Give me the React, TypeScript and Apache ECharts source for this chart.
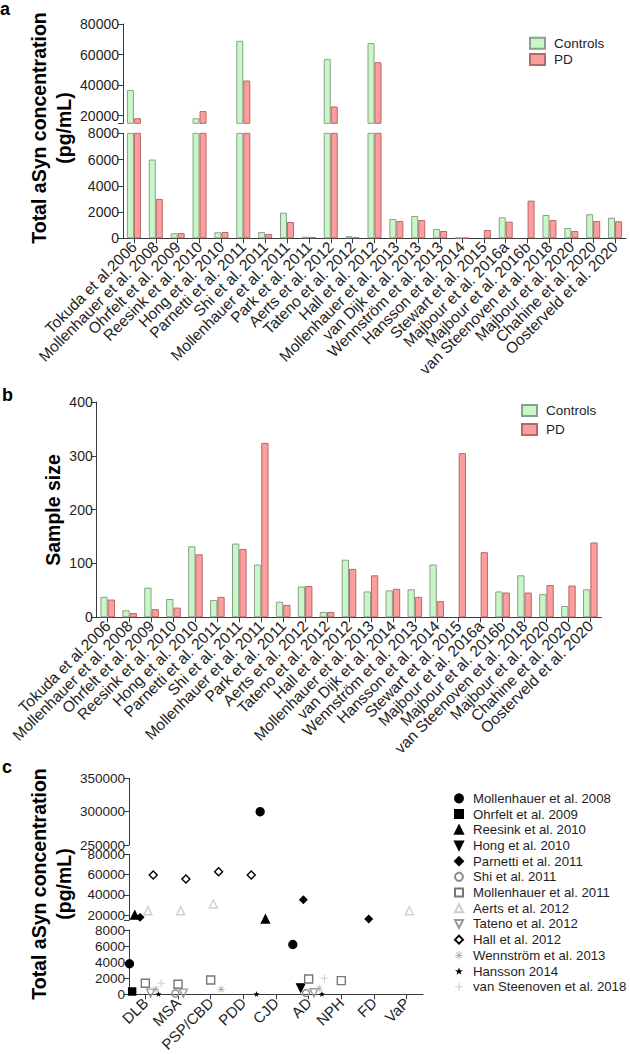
import React, { useEffect, useRef } from 'react';
import * as echarts from 'echarts';

const FONT = "'Liberation Sans', Arial, Helvetica, sans-serif";

// ---------- Panel a ----------
const studiesA = [
  'Tokuda et al.2006', 'Mollenhauer et al. 2008', 'Ohrfelt et al. 2009', 'Reesink et al. 2010',
  'Hong et al. 2010', 'Parnetti et al. 2011', 'Shi et al. 2011', 'Mollenhauer et al. 2011',
  'Park et al. 2011', 'Aerts et al. 2012', 'Tateno et al. 2012', 'Hall et al. 2012',
  'Mollenhauer et al. 2013', 'van Dijk et al. 2013', 'Wennström et al. 2013', 'Hansson et al. 2014',
  'Stewart et al. 2015', 'Majbour et al. 2016a', 'Majbour et al. 2016b', 'van Steenoven et al. 2018',
  'Majbour et al. 2020', 'Chahine et al. 2020', 'Oosterveld et al. 2020',
];
const controlsA = [36800, 6000, 380, 18300, 460, 69000, 470, 1950, 120, 57000, 160, 67500, 1470, 1700, 710, 50, null, 1600, null, 1775, 785, 1830, 1570];
const pdA = [18300, 3000, 400, 23000, 480, 43000, 330, 1240, 100, 26000, 80, 55000, 1320, 1390, 556, 40, 630, 1270, 2870, 1390, 556, 1320, 1295];
const ticksAUpper = [20000, 40000, 60000, 80000];

// ---------- Panel b ----------
const studiesB = [
  'Tokuda et al.2006', 'Mollenhauer et al. 2008', 'Ohrfelt et al. 2009', 'Reesink et al. 2010',
  'Hong et al. 2010', 'Parnetti et al. 2011', 'Shi et al. 2011', 'Mollenhauer et al. 2011',
  'Park et al. 2011', 'Aerts et al. 2012', 'Tateno et al. 2012', 'Hall et al. 2012',
  'Mollenhauer et al. 2013', 'van Dijk et al. 2014', 'Wennström et al. 2013', 'Hansson et al. 2014',
  'Stewart et al. 2015', 'Majbour et al. 2016a', 'Majbour et al. 2016b', 'van Steenoven et al. 2018',
  'Majbour et al. 2020', 'Chahine et al. 2020', 'Oosterveld et al. 2020',
];
const controlsB = [38, 13, 55, 34, 132, 32, 137, 98, 29, 57, 10, 107, 48, 50, 52, 98, null, null, 48, 78, 43, 21, 52];
const pdB = [33, 8, 15, 18, 117, 38, 127, 324, 23, 58, 10, 90, 78, 53, 38, 30, 305, 121, 46, 46, 60, 59, 139];

// ---------- Panel c ----------
const disordersC = ['DLB', 'MSA', 'PSP/CBD', 'PDD', 'CJD', 'AD', 'NPH', 'FD', 'VaP'];
const mollenhauer2008C = [3800, null, null, null, 300000, 6200, null, null, null];
const ohrfelt2009C = [350, null, null, null, null, null, null, null, null];
const reesink2010C = [20000, null, null, null, 16000, null, null, null, null];
const hong2010C = [null, null, null, null, null, 800, null, null, null];
const parnetti2011C = [17700, null, null, null, null, 35000, null, 16000, null];
const shi2011C = [null, 100, null, null, null, 150, null, null, null];
const mollenhauer2011C = [1370, 1250, 1780, null, null, 1900, 1700, null, null];
const aerts2012C = [24300, 24300, 30900, null, null, null, null, null, 24300];
const tateno2012C = [150, 150, null, null, null, 200, null, null, null];
const hall2012C = [59500, 55600, 62800, 59500, null, null, null, null, null];
const wennstrom2013C = [620, null, 620, null, null, 750, null, null, null];
const hansson2014C = [50, null, null, 50, null, 50, null, null, null];
const vanSteenoven2018C = [1370, null, null, null, null, 2000, null, null, null];
const ticksCMid = [20000, 40000, 60000, 80000];

const DOWN_TRI = 'path://M0,0L10,0L5,10Z';
const STAR = 'path://M5,0L6.2,3.6L10,3.6L6.9,5.9L8.1,9.5L5,7.3L1.9,9.5L3.1,5.9L0,3.6L3.8,3.6Z';
const PLUS = 'path://M4.3,0L5.7,0L5.7,4.3L10,4.3L10,5.7L5.7,5.7L5.7,10L4.3,10L4.3,5.7L0,5.7L0,4.3L4.3,4.3Z';
const ASTER = 'path://M4.5,0h1v10h-1z M0,4.5h10v1h-10z M1.1,1.8l0.7,-0.7l7.1,7.1l-0.7,0.7z M8.2,1.1l0.7,0.7l-7.1,7.1l-0.7,-0.7z';

const studiesC = [
  { name: 'Mollenhauer et al. 2008', values: mollenhauer2008C, symbol: 'circle', size: 8, fill: '#000', stroke: '#000' },
  { name: 'Ohrfelt et al. 2009', values: ohrfelt2009C, symbol: 'rect', size: 7, fill: '#000', stroke: '#000' },
  { name: 'Reesink et al. 2010', values: reesink2010C, symbol: 'triangle', size: 8, fill: '#000', stroke: '#000' },
  { name: 'Hong et al. 2010', values: hong2010C, symbol: DOWN_TRI, size: 8, fill: '#000', stroke: '#000' },
  { name: 'Parnetti et al. 2011', values: parnetti2011C, symbol: 'diamond', size: 7, fill: '#000', stroke: '#000' },
  { name: 'Shi et al. 2011', values: shi2011C, symbol: 'circle', size: 7, fill: 'rgba(0,0,0,0)', stroke: '#8c8c8c' },
  { name: 'Mollenhauer et al. 2011', values: mollenhauer2011C, symbol: 'rect', size: 8, fill: 'rgba(0,0,0,0)', stroke: '#777' },
  { name: 'Aerts et al. 2012', values: aerts2012C, symbol: 'triangle', size: 8, fill: 'rgba(0,0,0,0)', stroke: '#cfcfcf' },
  { name: 'Tateno et al. 2012', values: tateno2012C, symbol: DOWN_TRI, size: 8, fill: 'rgba(0,0,0,0)', stroke: '#999' },
  { name: 'Hall et al. 2012', values: hall2012C, symbol: 'diamond', size: 8, fill: 'rgba(0,0,0,0)', stroke: '#000' },
  { name: 'Wennström et al. 2013', values: wennstrom2013C, symbol: ASTER, size: 7, fill: '#a8a8a8', stroke: null },
  { name: 'Hansson 2014', values: hansson2014C, symbol: STAR, size: 6, fill: '#000', stroke: null },
  { name: 'van Steenoven et al. 2018', values: vanSteenoven2018C, symbol: PLUS, size: 8, fill: '#d0d0d0', stroke: null },
];

const AX = '#3a3a3a';
const LBL = '#1e1e1e';
const GREEN = { color: '#c8f6c6', borderColor: '#8aa08a', borderWidth: 1 };
const RED = { color: '#fd9d9d', borderColor: '#b36a6a', borderWidth: 1 };
const plain = (v: number) => String(v);

function valueAxis(gridIndex: number, extra: any, fontSize = 14, labelExtra: any = {}, tickExtra: any = {}) {
  return {
    type: 'value',
    gridIndex,
    axisLine: { show: true, lineStyle: { color: AX, width: 1 } },
    axisTick: { show: true, length: 5, lineStyle: { color: AX }, ...tickExtra },
    axisLabel: { color: LBL, fontSize, fontFamily: FONT, margin: 4, formatter: plain, ...labelExtra },
    splitLine: { show: false },
    ...extra,
  };
}

function catAxis(gridIndex: number, data: string[], visible: boolean, fontSize = 15.5) {
  if (!visible) return { type: 'category', gridIndex, data, show: false };
  return {
    type: 'category',
    gridIndex,
    data,
    axisLine: { show: true, lineStyle: { color: AX, width: 1 } },
    axisTick: { show: true, alignWithLabel: true, length: 5, lineStyle: { color: AX } },
    axisLabel: { interval: 0, rotate: 45, color: LBL, fontSize, fontFamily: FONT, margin: 6 },
    splitLine: { show: false },
  };
}

function inRange(values: (number | null)[], lo: number, hi: number) {
  return values.map((v) => (v != null && v >= lo && v <= hi ? v : null));
}

function buildOption() {
  const series: any[] = [];
  series.push({ type: 'bar', name: 'Controls', xAxisIndex: 0, yAxisIndex: 0, data: inRange(controlsA, 15000, 1e9), barWidth: 7, barGap: '0%', itemStyle: GREEN });
  series.push({ type: 'bar', name: 'PD', xAxisIndex: 0, yAxisIndex: 0, data: inRange(pdA, 15000, 1e9), barWidth: 7, barGap: '0%', itemStyle: RED });
  series.push({ type: 'bar', name: 'Controls', xAxisIndex: 1, yAxisIndex: 1, data: controlsA, barWidth: 7, barGap: '0%', itemStyle: GREEN, clip: true });
  series.push({ type: 'bar', name: 'PD', xAxisIndex: 1, yAxisIndex: 1, data: pdA, barWidth: 7, barGap: '0%', itemStyle: RED, clip: true });
  series.push({ type: 'bar', name: 'Controls', xAxisIndex: 2, yAxisIndex: 2, data: controlsB, barWidth: 7.3, barGap: '0%', itemStyle: GREEN });
  series.push({ type: 'bar', name: 'PD', xAxisIndex: 2, yAxisIndex: 2, data: pdB, barWidth: 7.3, barGap: '0%', itemStyle: RED });
  const segs = [
    { axis: 3, lo: 250000, hi: 350000 },
    { axis: 4, lo: 15000, hi: 80000 },
    { axis: 5, lo: 0, hi: 8000 },
  ];
  studiesC.forEach((s, i) => {
    segs.forEach((seg) => {
      const data = inRange(s.values, seg.lo, seg.hi);
      if (!data.some((v) => v != null)) return;
      series.push({
        type: 'scatter',
        name: s.name,
        xAxisIndex: seg.axis,
        yAxisIndex: seg.axis,
        data,
        symbol: s.symbol,
        symbolSize: s.size,
        symbolOffset: [(i - 6) * 2.64, 0],
        itemStyle: s.stroke
          ? { color: s.fill, borderColor: s.stroke, borderWidth: 1.4, opacity: 1 }
          : { color: s.fill, borderWidth: 0, opacity: 1 },
      });
    });
  });

  const labelText = (text: string, x: number, y: number) => ({
    type: 'text', x, y,
    style: { text, fill: '#000', font: `bold 18px ${FONT}`, textAlign: 'left', textVerticalAlign: 'top' },
  });
  const yTitle = (text: string, x: number, y: number) => ({
    type: 'text', x, y, rotation: Math.PI / 2,
    style: { text, fill: '#000', font: `bold 19.5px ${FONT}`, textAlign: 'center', textVerticalAlign: 'middle', lineHeight: 25 },
  });

  const legendBase = {
    orient: 'vertical',
    icon: 'rect',
    itemWidth: 15,
    itemHeight: 11,
    itemGap: 0,
    padding: 0,
    selectedMode: false,
    textStyle: { fontSize: 13.5, fontFamily: FONT, color: LBL, padding: [0, 0, 0, 4] },
  };

  return {
    animation: false,
    backgroundColor: '#fff',
    textStyle: { fontFamily: FONT },
    grid: [
      { left: 123, top: 24, width: 503, height: 99.3, outerBoundsMode: 'none' },
      { left: 123, top: 133.3, width: 503, height: 105, outerBoundsMode: 'none' },
      { left: 96.7, top: 402, width: 504.6, height: 215.3, outerBoundsMode: 'none' },
      { left: 129, top: 778.3, width: 294, height: 66.7, outerBoundsMode: 'none' },
      { left: 129, top: 854.3, width: 294, height: 65.8, outerBoundsMode: 'none' },
      { left: 129, top: 930, width: 294, height: 64.3, outerBoundsMode: 'none' },
    ],
    xAxis: [
      catAxis(0, studiesA, false),
      catAxis(1, studiesA, true),
      catAxis(2, studiesB, true),
      catAxis(3, disordersC, false),
      catAxis(4, disordersC, false),
      catAxis(5, disordersC, true, 15),
    ],
    yAxis: [
      valueAxis(0, { min: 15000, max: 80000 }, 14, { customValues: ticksAUpper }, { customValues: [15000, ...ticksAUpper] }),
      valueAxis(1, { min: 0, max: 8000, interval: 2000 }),
      valueAxis(2, { min: 0, max: 400, interval: 100 }),
      valueAxis(3, { min: 250000, max: 350000, interval: 50000 }, 13.5),
      valueAxis(4, { min: 15000, max: 80000 }, 13.5, { customValues: ticksCMid }, { customValues: [15000, ...ticksCMid] }),
      valueAxis(5, { min: 0, max: 8000, interval: 2000 }, 13.5),
    ],
    legend: [
      { ...legendBase, data: ['Controls', 'PD'], left: 529, top: 35, textStyle: { ...legendBase.textStyle, lineHeight: 16.3 } },
      { ...legendBase, data: ['Controls', 'PD'], left: 521, top: 401, textStyle: { ...legendBase.textStyle, lineHeight: 19 } },
      {
        orient: 'vertical',
        data: studiesC.map((s) => s.name),
        left: 454,
        top: 790.5,
        itemWidth: 8,
        itemHeight: 8,
        itemGap: 0,
        padding: 0,
        selectedMode: false,
        textStyle: { fontSize: 13.2, fontFamily: FONT, color: LBL, lineHeight: 15.7, padding: [0, 0, 0, 5] },
      },
    ],
    graphic: [
      labelText('a', 0, 0),
      labelText('b', 2, 386),
      labelText('c', 2, 758),
      yTitle('Total aSyn concentration\n(pg/mL)', 51, 128),
      yTitle('Sample size', 53, 510),
      yTitle('Total aSyn concentration\n(pg/mL)', 51, 884),
    ],
    series,
  };
}

export default function App() {
  const ref = useRef<HTMLDivElement>(null);
  useEffect(() => {
    document.body.style.margin = '0';
    const chart = echarts.init(ref.current as HTMLDivElement, null, { renderer: 'svg' });
    chart.setOption(buildOption() as any);
    return () => chart.dispose();
  }, []);
  return <div ref={ref} style={{ width: 630, height: 1055, position: 'absolute', left: 0, top: 0 }} />;
}
